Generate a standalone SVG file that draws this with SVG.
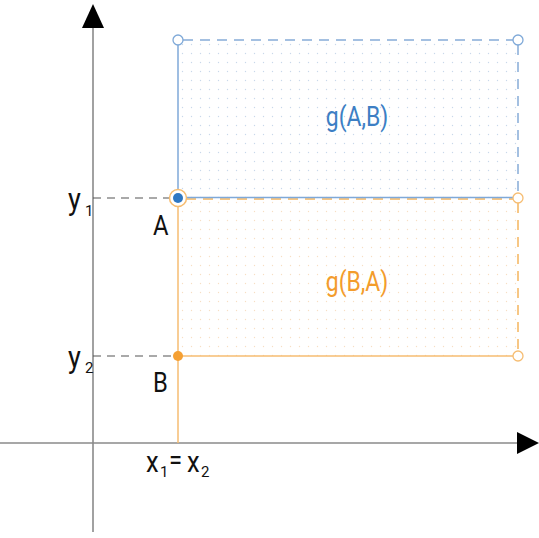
<svg xmlns="http://www.w3.org/2000/svg" width="539" height="538" viewBox="0 0 539 538">
<style>
.lbl{font-family:Roboto,"Liberation Sans",sans-serif;fill:#111;}
.sub{font-family:Roboto,"Liberation Sans",sans-serif;fill:#111;font-size:15px;}
.glbl{font-family:Roboto,"Liberation Sans",sans-serif;font-size:27px;text-anchor:middle;}
.axis{stroke:#8a8a8a;stroke-width:1.6;fill:none;}
.guide{stroke:#555;stroke-width:1.2;stroke-dasharray:8 6;fill:none;}
.bsol{stroke:#7fa9d8;stroke-width:1.5;fill:none;}
.bdash{stroke:#86acd8;stroke-width:1.5;stroke-dasharray:10 7;fill:none;}
.osol{stroke:#f6bd72;stroke-width:1.5;fill:none;}
.odash{stroke:#f5b55e;stroke-width:1.5;stroke-dasharray:10 7;fill:none;}
.openb{fill:#fff;stroke:#7fa9d8;stroke-width:1.3;}
.openo{fill:#fff;stroke:#f6bd72;stroke-width:1.3;}
</style>
<defs>
<pattern id="dotsB" x="178" y="40" width="9" height="9" patternUnits="userSpaceOnUse">
<circle cx="4.5" cy="4.5" r="0.7" fill="#c9d8ea"/>
</pattern>
<pattern id="dotsO" x="178" y="198" width="9" height="9" patternUnits="userSpaceOnUse">
<circle cx="4.5" cy="4.5" r="0.7" fill="#f6dfc4"/>
</pattern>
</defs>
<rect width="539" height="538" fill="#fff"/>
<g id="axes">
<line class="axis" x1="93" y1="26" x2="93" y2="532"/>
<polygon points="93,4 82,28 104,28" fill="#000"/>
<line class="axis" x1="0" y1="443" x2="519" y2="443"/>
<polygon points="539,443 517,432 517,454" fill="#000"/>
</g>
<g id="region-AB">
<rect x="178" y="40" width="340" height="158" fill="url(#dotsB)"/>
<text class="glbl" transform="translate(357,126) scale(0.85,1)" fill="#3d7fc4">g(A,B)</text>
</g>
<g id="region-BA">
<rect x="178" y="198" width="340" height="158" fill="url(#dotsO)"/>
<text class="glbl" transform="translate(357,291) scale(0.85,1)" fill="#f39c2c">g(B,A)</text>
</g>
<g id="connectors">
<line class="guide" x1="93" y1="198" x2="172" y2="198"/>
<line class="guide" x1="93" y1="356" x2="175" y2="356"/>
<line class="bdash" x1="183" y1="40" x2="513" y2="40"/>
<line class="bdash" x1="518" y1="45" x2="518" y2="193"/>
<line class="bsol" x1="178" y1="45" x2="178" y2="190"/>
<line class="odash" x1="186" y1="199" x2="513" y2="199"/>
<line class="bsol" x1="186" y1="197.5" x2="513" y2="197.5"/>
<line class="odash" x1="518" y1="203" x2="518" y2="351"/>
<line class="osol" x1="178" y1="206" x2="178" y2="443"/>
<line class="osol" x1="178" y1="356" x2="513" y2="356"/>
</g>
<g id="corners">
<circle class="openb" cx="178" cy="40" r="5"/>
<circle class="openb" cx="518" cy="40" r="5"/>
<circle class="openo" cx="518" cy="198" r="5"/>
<circle class="openo" cx="518" cy="356" r="5"/>
</g>
<g id="point-A">
<circle cx="178" cy="198" r="8.5" fill="#fff" stroke="#f6bd72" stroke-width="1.5"/>
<circle cx="178" cy="198" r="5" fill="#2f78c4"/>
<text class="lbl" transform="translate(153,235) scale(0.85,1)" font-size="28">A</text>
</g>
<g id="point-B">
<circle cx="178" cy="356" r="5" fill="#f5a033"/>
<text class="lbl" transform="translate(153,392) scale(0.85,1)" font-size="28">B</text>
</g>
<g id="label-y1">
<text class="lbl" transform="translate(68,210) scale(0.85,1)" font-size="32">y</text>
<text class="sub" x="85" y="216">1</text>
</g>
<g id="label-y2">
<text class="lbl" transform="translate(68,368) scale(0.85,1)" font-size="32">y</text>
<text class="sub" x="85" y="373">2</text>
</g>
<g id="label-x">
<text class="lbl" transform="translate(146,472) scale(0.85,1)" font-size="30">x</text>
<text class="sub" x="160" y="477">1</text>
<text class="lbl" transform="translate(169,469) scale(0.85,1)" font-size="28">=</text>
<text class="lbl" transform="translate(187,472) scale(0.85,1)" font-size="30">x</text>
<text class="sub" x="201" y="477">2</text>
</g>
</svg>
